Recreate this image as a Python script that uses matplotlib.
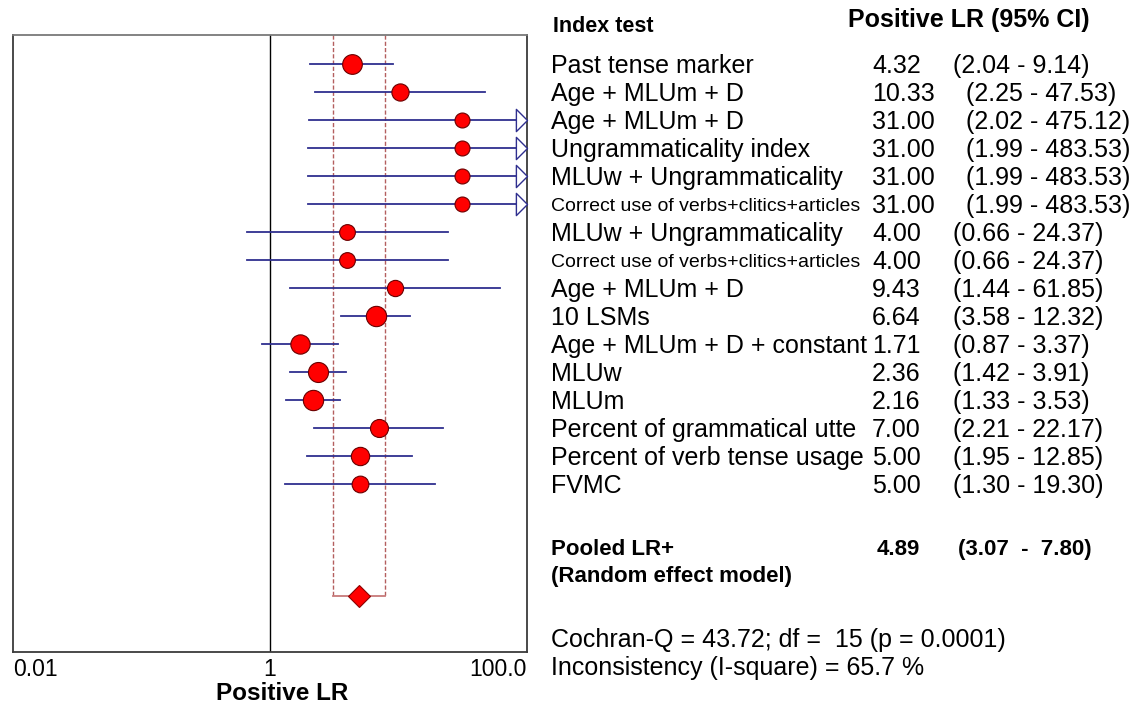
import matplotlib
matplotlib.use('Agg')
import matplotlib.pyplot as plt
import matplotlib.transforms as mtransforms
from matplotlib.path import Path
from matplotlib.ticker import NullLocator
import numpy as np

plt.rcParams['font.family'] = ['Liberation Sans', 'DejaVu Sans']

# study rows, top to bottom
tests = [
    'Past tense marker',
    'Age + MLUm + D',
    'Age + MLUm + D',
    'Ungrammaticality index',
    'MLUw + Ungrammaticality',
    'Correct use of verbs+clitics+articles',
    'MLUw + Ungrammaticality',
    'Correct use of verbs+clitics+articles',
    'Age + MLUm + D',
    '10 LSMs',
    'Age + MLUm + D + constant',
    'MLUw',
    'MLUm',
    'Percent of grammatical utte',
    'Percent of verb tense usage',
    'FVMC',
]
lr = [4.32, 10.33, 31.00, 31.00, 31.00, 31.00, 4.00, 4.00, 9.43, 6.64, 1.71, 2.36, 2.16, 7.00, 5.00, 5.00]
ci_low = [2.04, 2.25, 2.02, 1.99, 1.99, 1.99, 0.66, 0.66, 1.44, 3.58, 0.87, 1.42, 1.33, 2.21, 1.95, 1.30]
ci_high = [9.14, 47.53, 475.12, 483.53, 483.53, 483.53, 24.37, 24.37, 61.85, 12.32, 3.37, 3.91, 3.53, 22.17, 12.85, 19.30]
weights = [9.7, 7.4, 5.6, 5.6, 5.6, 5.6, 6.2, 6.2, 6.6, 10.3, 9.3, 10.0, 10.3, 8.1, 8.4, 7.0]

pooled_lr = 4.89
pooled_low = 3.07
pooled_high = 7.80
cochran_q = 43.72
df_q = 15
p_q = '0.0001'
i_square = 65.7

xticks = [0.01, 1, 100]
xticklabels = ['0.01', '1', '100.0']

W, H = 1138, 704
fig = plt.figure(figsize=(W / 100, H / 100), dpi=100)
ax = fig.add_axes([13 / W, (H - 652) / H, 514 / W, 617 / H])
ax.set_xscale('log')
ax.set_xlim(xticks[0], xticks[-1])
n = len(tests)
rows = np.arange(1, n + 1)
pooled_row = n + 4
ytop = 1 - 29 / 28
ax.set_ylim(n + 6, ytop)

line_col = '#2f2f8f'
arrow = Path([(-1, -1), (0, 0), (-1, 1), (-1, -1)],
             [Path.MOVETO, Path.LINETO, Path.LINETO, Path.CLOSEPOLY])

ax.axvline(1, color='black', lw=1, zorder=1)

for r, m, lo, hi, w in zip(rows, lr, ci_low, ci_high, weights):
    xmax = ax.get_xlim()[1]
    ax.plot([lo, min(hi, xmax)], [r, r], color=line_col, lw=1.3, zorder=2)
    if hi > xmax:
        ax.plot([xmax], [r], marker=arrow, ms=16, mfc='white', mec=line_col,
                mew=1, clip_on=False, zorder=3)
    d = np.sqrt(40 * w)
    ax.plot([m], [r], 'o', ms=d * 0.72, mfc='#ff0000', mec='#6a0000', mew=0.8, zorder=4)

# pooled estimate bracket + diamond
pcol = '#b45f5f'
for v in (pooled_low, pooled_high):
    ax.plot([v, v], [ytop, pooled_row], color=pcol, lw=1, ls=(0, (3, 1.5)), zorder=1)
ax.plot([pooled_low, pooled_high], [pooled_row, pooled_row], color='#c77a7a', lw=1.3, zorder=1)
ax.plot([pooled_lr], [pooled_row], 'D', ms=11, mfc='#ff0000', mec='#8b0000', mew=0.8, zorder=4)

for s in ax.spines.values():
    s.set_color('#3a3a3a')
    s.set_linewidth(1.3)
ax.spines['top'].set_color('#7a7a7a')
ax.set_yticks([])
ax.set_xticks(xticks)
ax.xaxis.set_minor_locator(NullLocator())
labs = ax.set_xticklabels(xticklabels)
labs[0].set_ha('left')
labs[-1].set_ha('right')
ax.tick_params(axis='x', length=0, pad=4, labelsize=16.5)
fig.text(282 / W, 1 - 693 / H, 'Positive LR', ha='center', va='center',
         fontsize=17.5, fontweight='bold')

# table on the right, rows share the axes y scale
base = mtransforms.blended_transform_factory(fig.transFigure, ax.transData)


def row_text(xpx, row, s, size, weight='normal'):
    dy = 0.716 * size * 100 / 72 / 2
    tr = mtransforms.offset_copy(base, fig=fig, x=0, y=-dy, units='dots')
    fig.text(xpx / W, row, s, transform=tr, fontsize=size, fontweight=weight, va='baseline')


row_text(553, 1 - 40 / 28, 'Index test', 15.5, 'bold')
row_text(848, 1 - 46 / 28, 'Positive LR (95% CI)', 18, 'bold')

for r, t, m, lo, hi in zip(rows, tests, lr, ci_low, ci_high):
    size = 14 if len(t) > 30 else 18
    row_text(551, r, t, size)
    val = '%.2f' % m
    row_text(872, r, val, 18)
    row_text(953 if len(val) < 5 else 966, r, '(%.2f - %.2f)' % (lo, hi), 18)

prow = 1 + (547 - 64) / 28
row_text(551, prow, 'Pooled LR+', 16, 'bold')
row_text(877, prow, '%.2f' % pooled_lr, 16, 'bold')
row_text(958, prow, '(%.2f  -  %.2f)' % (pooled_low, pooled_high), 16, 'bold')
row_text(551, prow + 27 / 28, '(Random effect model)', 16, 'bold')

row_text(551, 1 + (638 - 64) / 28, 'Cochran-Q = %.2f; df =  %d (p = %s)' % (cochran_q, df_q, p_q), 18)
row_text(551, 1 + (666 - 64) / 28, 'Inconsistency (I-square) = %.1f %%' % i_square, 18)

fig.savefig('out.png', dpi=100, facecolor='white')
